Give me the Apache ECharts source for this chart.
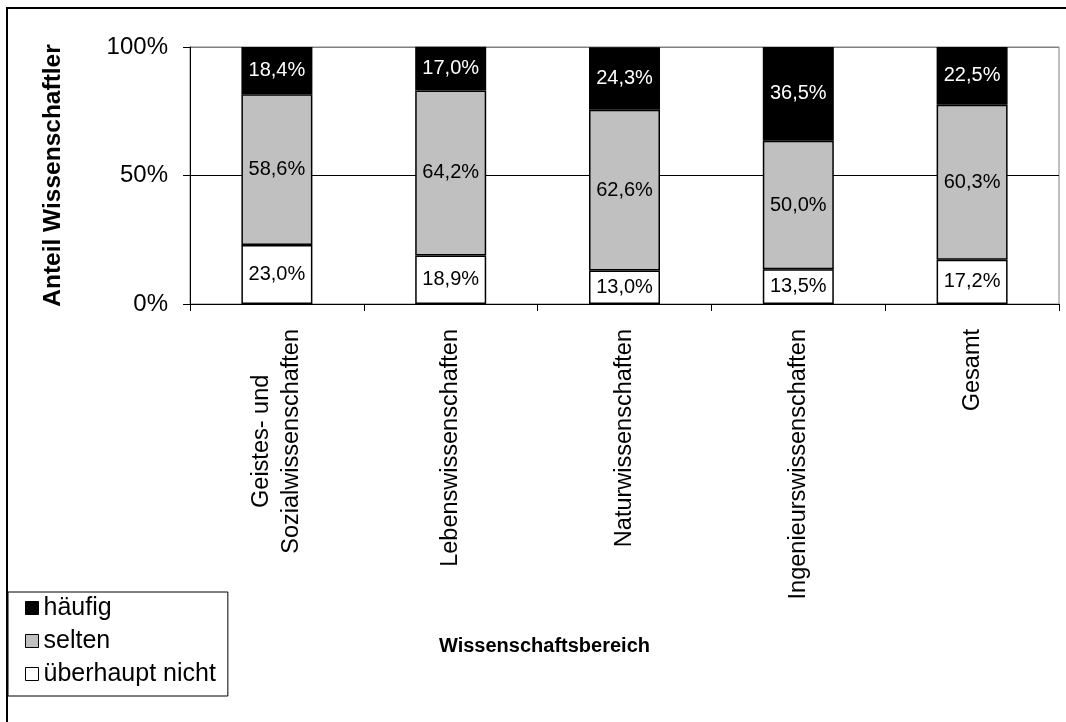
<!DOCTYPE html>
<html>
<head>
<meta charset="utf-8">
<script src="https://cdn.jsdelivr.net/npm/echarts@6/dist/echarts.min.js"></script>
<style>
  html, body { margin: 0; padding: 0; background: #fff; }
  #chart { width: 1066px; height: 722px; }
</style>
</head>
<body>
<div id="chart"></div>
<script>
// Fachbereiche (x-Achse)
const categories = [
  'Geistes- und\nSozialwissenschaften',
  'Lebenswissenschaften',
  'Naturwissenschaften',
  'Ingenieurswissenschaften',
  'Gesamt'
];
// Anteile in Prozent je Antwortkategorie
const haeufig = [18.4, 17.0, 24.3, 36.5, 22.5];
const selten = [58.6, 64.2, 62.6, 50.0, 60.3];
const ueberhauptNicht = [23.0, 18.9, 13.0, 13.5, 17.2];
// Skala der y-Achse
const yMin = 0, yMax = 100, yStep = 50;

const FONT = '"Liberation Sans", Arial, sans-serif';
const fmtPct = v => v.toFixed(1).replace('.', ',') + '%';

function barSeries(name, data, fill, labelColor) {
  return {
    name: name,
    type: 'bar',
    stack: 'anteil',
    data: data,
    barWidth: 71,
    itemStyle: { color: fill, borderColor: '#000', borderWidth: 1.5 },
    label: {
      show: true,
      position: 'inside',
      color: labelColor,
      fontFamily: FONT,
      fontSize: 20,
      formatter: p => fmtPct(p.value)
    },
    emphasis: { disabled: true }
  };
}

const chart = echarts.init(document.getElementById('chart'), null, { renderer: 'canvas' });
chart.setOption({
  animation: false,
  backgroundColor: '#fff',
  textStyle: { fontFamily: FONT, color: '#000' },
  graphic: [{
    type: 'rect',
    shape: { x: 7, y: 8, width: 1200, height: 900 },
    style: { fill: 'none', stroke: '#000', lineWidth: 2 },
    silent: true,
    z: -1
  }],
  grid: {
    left: 190, right: 7, top: 47, bottom: 418,
    show: true, borderColor: '#808080', borderWidth: 1, backgroundColor: '#fff'
  },
  legend: {
    orient: 'vertical',
    left: 8, top: 592,
    data: ['häufig', 'selten', 'überhaupt nicht'],
    icon: 'rect',
    itemWidth: 13, itemHeight: 13,
    itemGap: 1,
    itemStyle: { borderWidth: 1, borderColor: '#000' },
    textStyle: { fontFamily: FONT, fontSize: 25, color: '#000', lineHeight: 32 },
    padding: [0, 12, 6, 17],
    itemTextGap: 8,
    borderColor: '#000', borderWidth: 1,
    backgroundColor: '#fff',
    selectedMode: false
  },
  xAxis: {
    type: 'category',
    data: categories,
    name: 'Wissenschaftsbereich',
    nameLocation: 'middle',
    nameGap: 332,
    nameTextStyle: { fontFamily: FONT, fontSize: 20, fontWeight: 'bold', color: '#000', padding: [0, 160, 0, 0] },
    axisLine: { lineStyle: { color: '#000', width: 1 } },
    axisTick: { show: true, length: 7, lineStyle: { color: '#000' } },
    axisLabel: {
      rotate: 90,
      margin: 25,
      interval: 0,
      fontFamily: FONT,
      fontSize: 23.5,
      color: '#000',
      lineHeight: 30,
      formatter: v => v.split('\n').map(s => '{c|' + s + '}').join('\n'),
      rich: { c: { align: 'center', fontFamily: FONT, fontSize: 23.5, color: '#000', lineHeight: 30 } }
    },
    splitLine: { show: false }
  },
  yAxis: {
    type: 'value',
    min: yMin, max: yMax, interval: yStep,
    name: 'Anteil Wissenschaftler',
    nameLocation: 'middle',
    nameGap: 124,
    nameTextStyle: { fontFamily: FONT, fontSize: 24.5, fontWeight: 'bold', color: '#000' },
    axisLine: { show: true, lineStyle: { color: '#000', width: 1 } },
    axisTick: { show: true, length: 7, lineStyle: { color: '#000' } },
    axisLabel: { margin: 22, fontFamily: FONT, fontSize: 24, color: '#000', formatter: '{value}%' },
    splitLine: { show: true, lineStyle: { color: ['#000', '#000', '#808080'], width: 1 } }
  },
  series: [
    barSeries('überhaupt nicht', ueberhauptNicht, '#ffffff', '#000'),
    barSeries('selten', selten, '#c0c0c0', '#000'),
    barSeries('häufig', haeufig, '#000000', '#fff')
  ]
});
</script>
</body>
</html>
